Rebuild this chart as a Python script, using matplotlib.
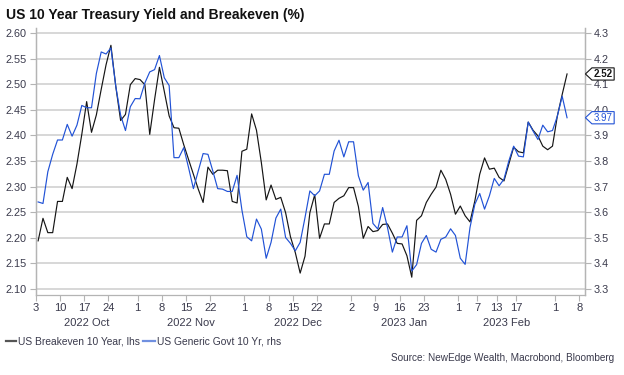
import matplotlib
matplotlib.use('Agg')
import matplotlib.pyplot as plt
import matplotlib.transforms as mtransforms
from matplotlib.patches import Polygon
from matplotlib.lines import Line2D
import numpy as np
import pandas as pd

plt.rcParams['font.family'] = ['Liberation Sans', 'DejaVu Sans']

# weekday calendar of the chart (Oct 3 2022 -> Mar 8 2023)
calendar = pd.bdate_range('2022-10-03', '2023-03-08')

breakeven = [2.194, 2.238, 2.210, 2.210, 2.271, 2.271, 2.318, 2.296, 2.344, 2.402,
             2.466, 2.406, 2.440, 2.490, 2.538, 2.576, 2.496, 2.429, 2.441, 2.499,
             2.511, 2.509, 2.499, 2.402, 2.470, 2.533, 2.486, 2.438, 2.415, 2.414,
             2.382, 2.353, 2.324, 2.295, 2.269, 2.338, 2.324, 2.332, 2.332, 2.331,
             2.271, 2.268, 2.369, 2.373, 2.442, 2.410, 2.347, 2.274, 2.303, 2.275,
             2.279, 2.249, 2.202, 2.171, 2.131, 2.164, 2.249, 2.284, 2.199, 2.227,
             2.227, 2.269, 2.277, 2.282, 2.298, 2.298, 2.261, 2.199, 2.222, 2.212,
             2.214, 2.226, 2.227, 2.209, 2.189, 2.188, 2.165, 2.123, 2.234, 2.243,
             2.269, 2.285, 2.299, 2.332, 2.314, 2.285, 2.246, 2.262, 2.243, 2.231,
             2.272, 2.324, 2.356, 2.334, 2.336, 2.318, 2.311, 2.344, 2.377, 2.368,
             2.366, 2.426, 2.410, 2.399, 2.379, 2.372, 2.379, 2.438, 2.480, 2.520]

govt10 = [3.640, 3.634, 3.758, 3.826, 3.882, 3.882, 3.943, 3.897, 3.940, 4.017,
          4.008, 4.008, 4.142, 4.226, 4.218, 4.242, 4.092, 3.979, 3.919, 4.012,
          4.044, 4.043, 4.105, 4.148, 4.157, 4.212, 4.125, 4.095, 3.813, 3.813,
          3.852, 3.774, 3.692, 3.761, 3.829, 3.826, 3.761, 3.692, 3.690, 3.681,
          3.681, 3.744, 3.608, 3.504, 3.488, 3.573, 3.534, 3.420, 3.482, 3.577,
          3.612, 3.501, 3.478, 3.449, 3.482, 3.579, 3.683, 3.664, 3.683, 3.748,
          3.748, 3.839, 3.881, 3.816, 3.875, 3.875, 3.742, 3.686, 3.716, 3.556,
          3.534, 3.618, 3.540, 3.444, 3.503, 3.503, 3.547, 3.370, 3.395, 3.478,
          3.509, 3.455, 3.444, 3.494, 3.503, 3.535, 3.509, 3.420, 3.396, 3.540,
          3.631, 3.673, 3.612, 3.664, 3.732, 3.703, 3.729, 3.800, 3.858, 3.819,
          3.816, 3.952, 3.917, 3.884, 3.940, 3.914, 3.919, 3.975, 4.053, 3.969]

tick_dates = ['2022-10-03', '2022-10-10', '2022-10-17', '2022-10-24',
              '2022-11-01', '2022-11-08', '2022-11-15', '2022-11-22',
              '2022-12-01', '2022-12-08', '2022-12-15', '2022-12-22',
              '2023-01-02', '2023-01-09', '2023-01-16', '2023-01-23',
              '2023-02-01', '2023-02-07', '2023-02-13', '2023-02-17',
              '2023-03-01', '2023-03-08']
month_labels = ['2022 Oct', '2022 Nov', '2022 Dec', '2023 Jan', '2023 Feb']
month_starts = ['2022-10-03', '2022-11-01', '2022-12-01', '2023-01-02', '2023-02-01', '2023-03-01']

left_ticks = [2.10, 2.15, 2.20, 2.25, 2.30, 2.35, 2.40, 2.45, 2.50, 2.55, 2.60]
right_ticks = [3.3, 3.4, 3.5, 3.6, 3.7, 3.8, 3.9, 4.0, 4.1, 4.2, 4.3]

title = 'US 10 Year Treasury Yield and Breakeven (%)'
label_be = 'US Breakeven 10 Year, lhs'
label_gv = 'US Generic Govt 10 Yr, rhs'
source = 'Source: NewEdge Wealth, Macrobond, Bloomberg'

BLACK = '#151515'
BLUE = '#2152d6'
TXT = '#3a3a4c'
GRID = '#cdcdcd'
SPINE = '#b4b4b4'

W, H = 624, 375
fig = plt.figure(figsize=(W / 100, H / 100), dpi=100)
x0, x1, ytop, ybot = 35.7, 585.0, 28.0, 295.0
ax = fig.add_axes([x0 / W, 1 - ybot / H, (x1 - x0) / W, (ybot - ytop) / H])
ax2 = ax.twinx()

cal_index = {d: i for i, d in enumerate(calendar)}
x = np.arange(len(breakeven))

ax.plot(x, breakeven, color=BLACK, lw=0.85, zorder=3)
ax2.plot(x, govt10, color=BLUE, lw=0.85, zorder=3)

ax.set_xlim(-0.5, 112.7)
lo, hi = 2.0882, 2.6098
ax.set_ylim(lo, hi)
ax2.set_ylim(3.3 + 2 * (lo - 2.10), 3.3 + 2 * (hi - 2.10))

ax.set_yticks(left_ticks)
ax.set_yticklabels([f'{v:.2f}' for v in left_ticks])
ax2.set_yticks(right_ticks)
ax2.set_yticklabels([f'{v:.1f}' for v in right_ticks])

ax.yaxis.grid(True, color=GRID, lw=1.1)
ax.set_axisbelow(True)

tpos = [cal_index[pd.Timestamp(d)] - 0.5 for d in tick_dates]
ax.set_xticks(tpos)
ax.set_xticklabels([str(pd.Timestamp(d).day) for d in tick_dates])

for a in (ax, ax2):
    for s in ('top',):
        a.spines[s].set_visible(False)
    for s in ('left', 'right', 'bottom'):
        a.spines[s].set_color(SPINE)
        a.spines[s].set_linewidth(0.9)
ax2.spines['bottom'].set_visible(False)

ax.tick_params(axis='y', length=4, width=0.8, color=SPINE, pad=2.5, labelsize=7.8, labelcolor=TXT)
ax2.tick_params(axis='y', length=4, width=0.8, color=SPINE, pad=2.5, labelsize=7.8, labelcolor=TXT)
ax.tick_params(axis='x', length=4, width=0.8, color=SPINE, pad=2.0, labelsize=8, labelcolor=TXT)

# month labels centred on month spans
ms = [cal_index[pd.Timestamp(d)] - 0.5 for d in month_starts]
for i, lab in enumerate(month_labels):
    xc = (ms[i] + ms[i + 1]) / 2
    ax.text(xc, -(323 - ybot) / (ybot - ytop) * -1 * -1 if False else -(323 - ybot) / (ybot - ytop),
            lab, transform=ax.get_xaxis_transform(), ha='center', va='center',
            fontsize=8, color=TXT)

# callouts at the right edge
def callout(yval, trans, text, ec, tc, weight):
    base = mtransforms.ScaledTranslation(1.0, yval, trans)
    tr = mtransforms.Affine2D().scale(fig.dpi / 72.0) + base
    hh = 4.4
    verts = [(0.3, 0), (5, hh), (21, hh), (21, -hh), (5, -hh)]
    poly = Polygon(verts, closed=True, transform=tr, facecolor='white',
                   edgecolor=ec, lw=0.8, clip_on=False, zorder=10)
    ax2.add_patch(poly)
    ax2.annotate(text, xy=(1.0, yval), xycoords=trans, xytext=(13.2, 0),
                 textcoords='offset points', ha='center', va='center',
                 fontsize=7, color=tc, fontweight=weight, zorder=11,
                 annotation_clip=False)

callout(breakeven[-1], ax.get_yaxis_transform(), f'{breakeven[-1]:.2f}', BLACK, BLACK, 'bold')
callout(govt10[-1], ax2.get_yaxis_transform(), f'{govt10[-1]:.2f}', BLUE, BLUE, 'normal')

# title
fig.text(6 / W, 1 - 19.5 / H, title, ha='left', va='baseline', fontsize=10,
         fontweight='bold', color='#111111')

# legend
ly = 1 - 341 / H
fig.add_artist(Line2D([6 / W, 16 / W], [ly, ly], color='#555555', lw=1.6, transform=fig.transFigure))
fig.text(18 / W, ly, label_be, ha='left', va='center', fontsize=7.4, color=TXT)
fig.add_artist(Line2D([143 / W, 155 / W], [ly, ly], color='#7090e0', lw=1.6, transform=fig.transFigure))
fig.text(157 / W, ly, label_gv, ha='left', va='center', fontsize=7.4, color=TXT)

# source
fig.text(614 / W, 1 - 358 / H, source, ha='right', va='center', fontsize=7.2, color=TXT)

fig.savefig('out.png', dpi=100)
